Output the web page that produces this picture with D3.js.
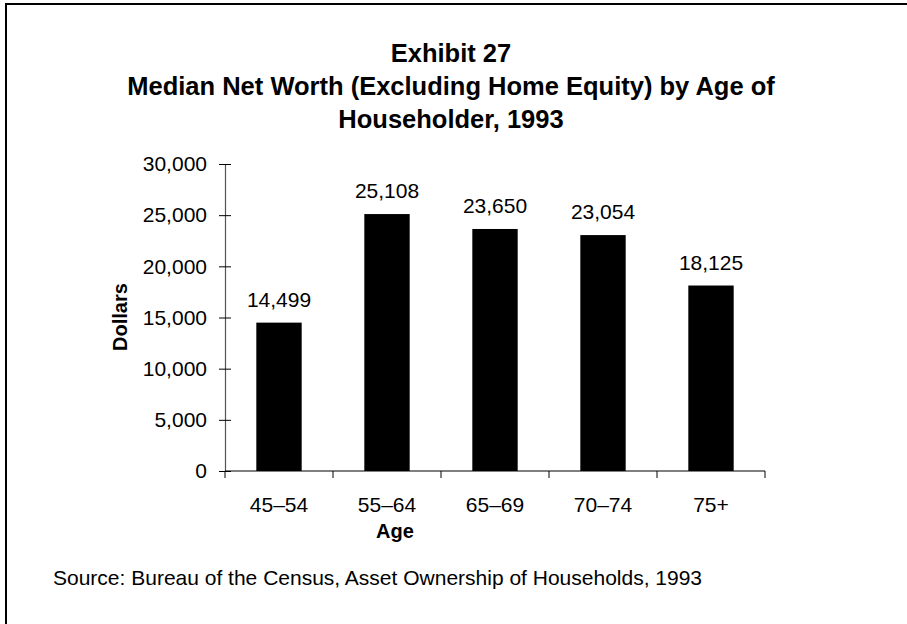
<!DOCTYPE html>
<html>
<head>
<meta charset="utf-8">
<script src="https://cdn.jsdelivr.net/npm/d3@7"></script>
<style>
  body { margin: 0; background: #fff; }
  text { font-family: "Liberation Sans", Arial, sans-serif; fill: #000; }
</style>
</head>
<body>
<svg id="chart" width="907" height="624"></svg>
<script>
"use strict";

var ages = ["45–54", "55–64", "65–69", "70–74", "75+"];
var netWorth = [14499, 25108, 23650, 23054, 18125];
var yTicks = [0, 5000, 10000, 15000, 20000, 25000, 30000];
var titleLines = ["Exhibit 27", "Median Net Worth (Excluding Home Equity) by Age of", "Householder, 1993"];
var sourceNote = "Source: Bureau of the Census, Asset Ownership of Households, 1993";

var svg = d3.select("#chart");

// outer frame (runs off the right and bottom edge)
svg.append("rect")
  .attr("x", 6).attr("y", 4)
  .attr("width", 920).attr("height", 640)
  .attr("fill", "none")
  .attr("stroke", "#000")
  .attr("stroke-width", 2);

// title
svg.append("g")
  .selectAll("text")
  .data(titleLines)
  .enter()
  .append("text")
  .attr("x", 451)
  .attr("y", function(d, i) { return 62 + i * 33; })
  .attr("text-anchor", "middle")
  .attr("font-size", 25.5)
  .attr("font-weight", "bold")
  .text(function(d) { return d; });

var plot = { left: 225, right: 765, top: 164, bottom: 471 };

var x = d3.scaleBand()
  .domain(ages)
  .range([plot.left, plot.right])
  .paddingInner(0.58)
  .paddingOuter(0.29);

var xEdges = d3.scaleLinear().domain([0, ages.length]).range([plot.left, plot.right]);

var y = d3.scaleLinear()
  .domain([0, 30000])
  .range([plot.bottom, plot.top]);

// bars
svg.append("g")
  .selectAll("rect")
  .data(netWorth)
  .enter()
  .append("rect")
  .attr("x", function(d, i) { return x(ages[i]); })
  .attr("y", function(d) { return y(d); })
  .attr("width", x.bandwidth())
  .attr("height", function(d) { return y(0) - y(d); })
  .attr("fill", "#000");

// value labels
svg.append("g")
  .selectAll("text")
  .data(netWorth)
  .enter()
  .append("text")
  .attr("x", function(d, i) { return x(ages[i]) + x.bandwidth() / 2; })
  .attr("y", function(d) { return y(d) - 16; })
  .attr("text-anchor", "middle")
  .attr("font-size", 21)
  .text(function(d) { return d3.format(",")(d); });

// y axis, ticks crossing the line
var yAxis = svg.append("g")
  .attr("transform", "translate(" + plot.left + ",0)")
  .call(d3.axisLeft(y).tickValues(yTicks).tickFormat(d3.format(",")).tickSize(6).tickPadding(12));
yAxis.select(".domain").attr("stroke", "#555").attr("stroke-width", 1.2);
yAxis.selectAll(".tick line").attr("x2", 6).attr("x1", -6).attr("stroke", "#000");
yAxis.selectAll(".tick text").attr("font-size", 21).attr("font-family", "Liberation Sans, Arial, sans-serif");

// x axis with ticks at category edges
var xAxisG = svg.append("g").attr("transform", "translate(0," + plot.bottom + ")");
xAxisG.append("line")
  .attr("x1", plot.left).attr("x2", plot.right)
  .attr("stroke", "#000").attr("stroke-width", 1.2);
xAxisG.selectAll("line.tk")
  .data(d3.range(ages.length + 1))
  .enter()
  .append("line")
  .attr("class", "tk")
  .attr("x1", function(d) { return xEdges(d); })
  .attr("x2", function(d) { return xEdges(d); })
  .attr("y1", 0).attr("y2", 7)
  .attr("stroke", "#000");
xAxisG.selectAll("text")
  .data(ages)
  .enter()
  .append("text")
  .attr("x", function(d) { return x(d) + x.bandwidth() / 2; })
  .attr("y", 41)
  .attr("text-anchor", "middle")
  .attr("font-size", 21)
  .text(function(d) { return d; });

// axis titles
svg.append("text")
  .attr("x", 395).attr("y", 538)
  .attr("text-anchor", "middle")
  .attr("font-size", 20)
  .attr("font-weight", "bold")
  .text("Age");

svg.append("text")
  .attr("transform", "translate(127,317) rotate(-90)")
  .attr("text-anchor", "middle")
  .attr("font-size", 20)
  .attr("font-weight", "bold")
  .text("Dollars");

// source note
svg.append("text")
  .attr("x", 53).attr("y", 585)
  .attr("font-size", 21)
  .text(sourceNote);
</script>
</body>
</html>
